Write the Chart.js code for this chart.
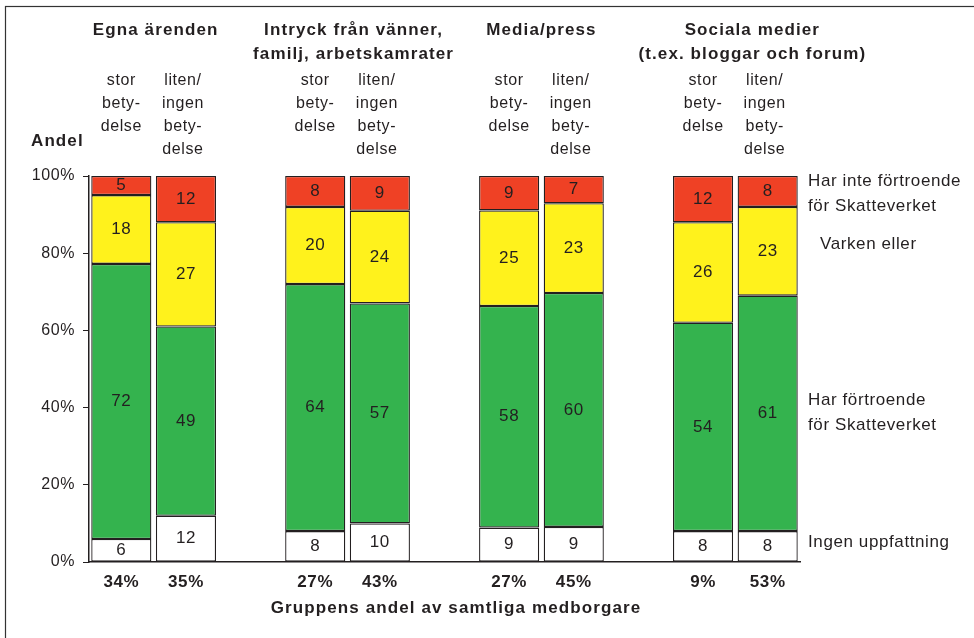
<!DOCTYPE html>
<html>
<head>
<meta charset="utf-8">
<script src="https://cdn.jsdelivr.net/npm/chart.js@4/dist/chart.umd.min.js"></script>
<style>
  html, body { margin: 0; padding: 0; background: #fff; }
  #ram { position: relative; width: 974px; height: 638px; overflow: hidden; }
</style>
</head>
<body>
<div id="ram"><canvas id="graf" width="974" height="638"></canvas></div>
<script>
// Förtroende för Skatteverket efter informationskälla
const kategorier = ['34%', '35%', '', '27%', '43%', '', '27%', '45%', '', '9%', '53%'];
const ingenUppfattning = [6, 12, null, 8, 10, null, 9, 9, null, 8, 8];
const harFortroende = [72, 49, null, 64, 57, null, 58, 60, null, 54, 61];
const varkenEller = [18, 27, null, 20, 24, null, 25, 23, null, 26, 23];
const harInteFortroende = [5, 12, null, 8, 9, null, 9, 7, null, 12, 8];
const yTicks = [0, 20, 40, 60, 80, 100];

const gruppRubriker = [
  ['Egna ärenden'],
  ['Intryck från vänner,', 'familj, arbetskamrater'],
  ['Media/press'],
  ['Sociala medier', '(t.ex. bloggar och forum)']
];
const storText = ['stor', 'bety-', 'delse'];
const litenText = ['liten/', 'ingen', 'bety-', 'delse'];
const xTitel = 'Gruppens andel av samtliga medborgare';

const MORK = '#231F20';
const FONT = '"Liberation Sans", Arial, sans-serif';

const serier = [ingenUppfattning, harFortroende, varkenEller, harInteFortroende];
const summa = kategorier.map((_, i) => serier.reduce((s, arr) => s + (arr[i] || 0), 0));

// staplarna är skalade till 100 %, etiketterna visar de avrundade talen
function andel(arr) {
  return arr.map((v, i) => v === null ? null : v / summa[i] * 100);
}

function dataset(label, arr, farg) {
  return {
    label: label,
    data: andel(arr),
    backgroundColor: farg,
    borderColor: MORK,
    borderWidth: 1.3,
    borderSkipped: false,
    barPercentage: 0.93,
    categoryPercentage: 1
  };
}

const texter = {
  id: 'texter',
  beforeDraw(chart) {
    chart.ctx.letterSpacing = '0.6px';
  },
  afterDatasetsDraw(chart) {
    const ctx = chart.ctx;
    ctx.save();
    ctx.fillStyle = MORK;
    ctx.font = '17px ' + FONT;
    ctx.textAlign = 'center';
    ctx.textBaseline = 'middle';
    chart.data.datasets.forEach((ds, i) => {
      const meta = chart.getDatasetMeta(i);
      meta.data.forEach((bar, j) => {
        const v = serier[i][j];
        if (v === null) return;
        ctx.fillText(String(v), bar.x, (bar.y + bar.base) / 2);
      });
    });
    ctx.restore();
  },
  afterDraw(chart) {
    const ctx = chart.ctx;
    const x = chart.scales.x;
    ctx.save();
    ctx.fillStyle = MORK;
    ctx.textBaseline = 'middle';

    // ram
    ctx.strokeStyle = '#333';
    ctx.lineWidth = 1.2;
    ctx.strokeRect(5.5, 6.5, 1000, 700);

    // gruppernas rubriker
    ctx.font = 'bold 17px ' + FONT;
    ctx.letterSpacing = '1.1px';
    ctx.textAlign = 'center';
    const forskjut = [2, 6, 0, 17];
    gruppRubriker.forEach((rader, g) => {
      const mitt = (x.getPixelForValue(g * 3) + x.getPixelForValue(g * 3 + 1)) / 2 + forskjut[g];
      rader.forEach((t, r) => ctx.fillText(t, mitt, 30 + r * 24));
    });

    ctx.font = 'bold 17px ' + FONT;
    ctx.textAlign = 'left';
    ctx.fillText('Andel', 31, 141);

    ctx.textAlign = 'center';
    ctx.fillText(xTitel, 456, 608);

    // betydelse-etiketter
    ctx.font = '16px ' + FONT;
    ctx.letterSpacing = '0.6px';
    for (let g = 0; g < 4; g++) {
      const a = x.getPixelForValue(g * 3);
      const b = x.getPixelForValue(g * 3 + 1);
      storText.forEach((t, r) => ctx.fillText(t, a, 81 + r * 22.7));
      litenText.forEach((t, r) => ctx.fillText(t, b - 3, 81 + r * 22.7));
    }

    // förklaringar till höger
    ctx.font = '17px ' + FONT;
    ctx.textAlign = 'left';
    ctx.fillText('Har inte förtroende', 808, 181);
    ctx.fillText('för Skatteverket', 808, 206);
    ctx.fillText('Varken eller', 820, 244);
    ctx.fillText('Har förtroende', 808, 400);
    ctx.fillText('för Skatteverket', 808, 425);
    ctx.fillText('Ingen uppfattning', 808, 542);
    ctx.restore();
  }
};

new Chart(document.getElementById('graf'), {
  type: 'bar',
  data: {
    labels: kategorier,
    datasets: [
      dataset('Ingen uppfattning', ingenUppfattning, '#FFFFFF'),
      dataset('Har förtroende för Skatteverket', harFortroende, '#34B34E'),
      dataset('Varken eller', varkenEller, '#FFF21C'),
      dataset('Har inte förtroende för Skatteverket', harInteFortroende, '#EF4125')
    ]
  },
  options: {
    responsive: false,
    animation: false,
    layout: { padding: { top: 176, right: 174, bottom: 0, left: 0 } },
    plugins: {
      legend: { display: false },
      tooltip: { enabled: false }
    },
    scales: {
      x: {
        stacked: true,
        afterFit(scale) { scale.height = 76; },
        grid: { drawOnChartArea: false, drawTicks: false },
        border: { display: true, color: MORK, width: 1.5 },
        ticks: {
          color: MORK,
          padding: 10,
          maxRotation: 0,
          autoSkip: false,
          font: { family: FONT, size: 17, weight: 'bold' }
        }
      },
      y: {
        stacked: true,
        min: 0,
        max: 100,
        afterFit(scale) { scale.width = 89; },
        afterBuildTicks(scale) { scale.ticks = yTicks.map(v => ({ value: v })); },
        grid: { drawOnChartArea: false, tickLength: 6, color: MORK, lineWidth: 1 },
        border: { display: true, color: MORK, width: 1.5 },
        ticks: {
          color: MORK,
          padding: 8,
          font: { family: FONT, size: 16 },
          callback: v => v + '%'
        }
      }
    }
  },
  plugins: [texter]
});
</script>
</body>
</html>
